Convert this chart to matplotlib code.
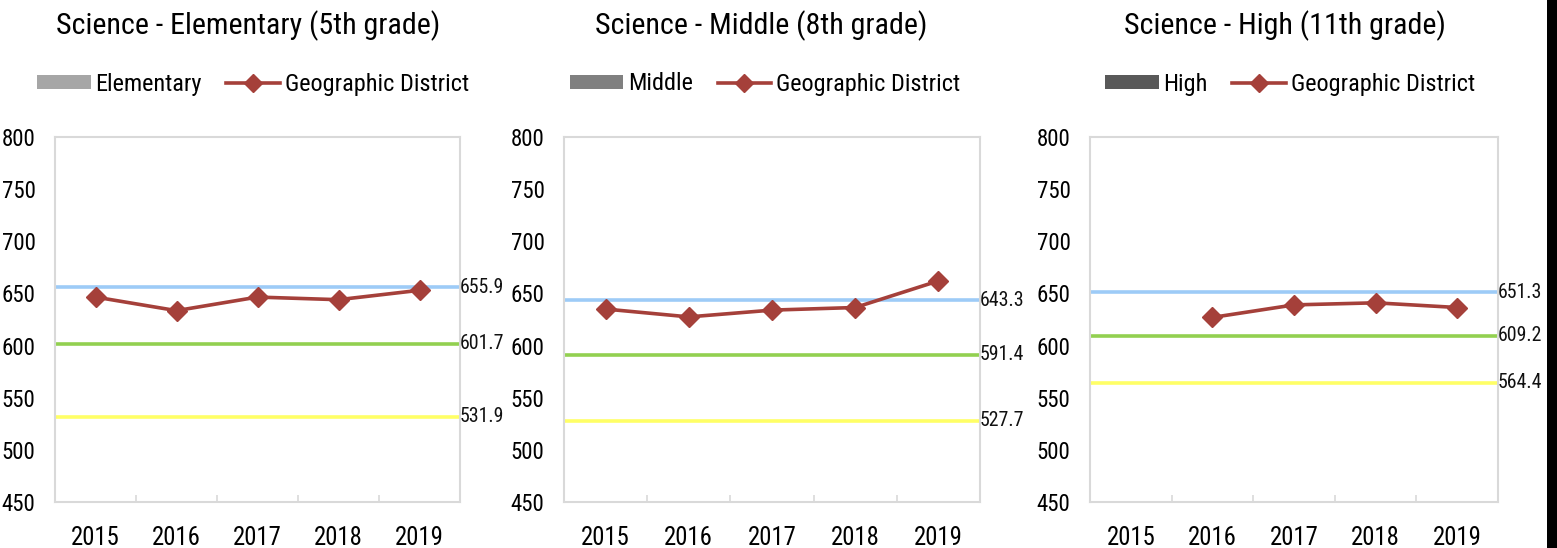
import matplotlib
matplotlib.use("Agg")
import matplotlib.pyplot as plt
from matplotlib.patches import Patch, Rectangle
from matplotlib.lines import Line2D
import numpy as np

plt.rcParams['font.family'] = ['Roboto Condensed', 'Archivo Narrow', 'Liberation Sans', 'DejaVu Sans']

years = ["2015", "2016", "2017", "2018", "2019"]
titles = ["Science - Elementary (5th grade)", "Science - Middle (8th grade)", "Science - High (11th grade)"]
level_names = ["Elementary", "Middle", "High"]
level_colors = ["#a6a6a6", "#808080", "#595959"]

district_elem = [646.5, 633.5, 646.5, 644.0, 653.0]
district_mid = [635.0, 627.5, 634.0, 636.5, 662.0]
district_high = [np.nan, 627.0, 639.0, 641.0, 636.5]
districts = [district_elem, district_mid, district_high]

blue_vals = [655.9, 643.3, 651.3]
green_vals = [601.7, 591.4, 609.2]
yellow_vals = [531.9, 527.7, 564.4]

W, H = 1557, 548
fig = plt.figure(figsize=(W / 100, H / 100), dpi=100)

axes_px = [(55, 460), (564, 980), (1090, 1498)]
top_px, bot_px = 137, 502
title_cx = [248, 761, 1285]
legend_cx = [253, 765, 1290]

for i in range(3):
    l, r = axes_px[i]
    ax = fig.add_axes([l / W, 1 - bot_px / H, (r - l) / W, (bot_px - top_px) / H])
    x = np.arange(len(years))
    ax.set_xlim(-0.5, len(years) - 0.5)
    ax.set_ylim(450, 800)
    for val, col in [(blue_vals[i], "#9dcbf7"), (green_vals[i], "#92d050"), (yellow_vals[i], "#ffff66")]:
        ax.axhline(val, color=col, lw=2.6, zorder=2)
        ax.text(1.0, val, f"{val:.1f}", transform=ax.get_yaxis_transform(),
                ha="left", va="center", fontsize=14.3, color="#111111", zorder=5)
    ax.plot(x, districts[i], color="#a5403a", lw=2.6, marker="D", markersize=10,
            markeredgecolor="#a5403a", zorder=4)
    ax.set_yticks(np.arange(450, 801, 50))
    ax.set_xticks(x)
    ax.set_xticklabels(years, fontsize=17.8)
    ax.tick_params(axis="y", length=0, pad=14, labelsize=16.5)
    ax.tick_params(axis="x", length=0, pad=17)
    ax.set_xticks(np.arange(0.5, len(years) - 1, 1), minor=True)
    ax.tick_params(axis="x", which="minor", direction="in", length=5, color="#d9d9d9", width=1.2)
    for s in ax.spines.values():
        s.set_color("#d9d9d9")
        s.set_linewidth(1.5)
    fig.text(title_cx[i] / W, 1 - 26 / H, titles[i], ha="center", va="center", fontsize=21.6)
    handles = [Patch(facecolor=level_colors[i], edgecolor="none"),
               Line2D([0], [0], color="#a5403a", lw=2.6, marker="D", markersize=9)]
    fig.legend(handles, [level_names[i], "Geographic District"], loc="center",
               bbox_to_anchor=(legend_cx[i] / W, 1 - 84 / H), ncol=2, frameon=False,
               fontsize=17.5, handlelength=2.2, handleheight=0.55, handletextpad=0.2,
               columnspacing=1.0)

fig.add_artist(Rectangle((1547 / W, 0), 10 / W, 1, transform=fig.transFigure,
                         facecolor="black", edgecolor="none"))
fig.savefig("out.png", dpi=100)
